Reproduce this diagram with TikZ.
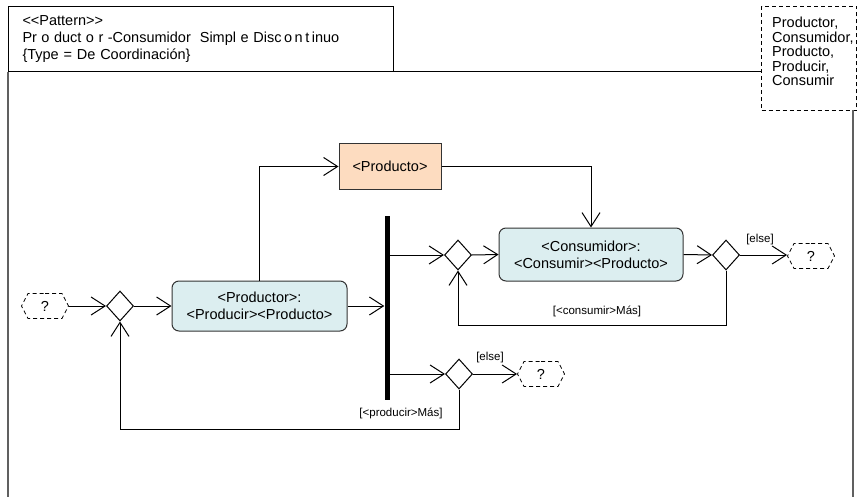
\documentclass[tikz,border=0pt]{standalone}
\usepackage{fontspec}
\setmainfont{Liberation Sans}
\usetikzlibrary{arrows.meta,shapes.geometric,shapes.symbols}
\definecolor{actfill}{HTML}{DCEEF0}
\definecolor{objfill}{HTML}{FDDCC0}
\definecolor{framegray}{HTML}{606060}
\newcommand{\gp}{\hspace{4.5pt}}
\newcommand{\gq}{\hspace{2.5pt}}
\begin{document}
\begin{tikzpicture}[x=1pt,y=-1pt,
  font=\fontsize{14.5}{17}\selectfont,
  flow/.style={line width=1pt,-{Straight Barb[length=14pt,width=18pt]}},
  link/.style={line width=1pt},
  act/.style={draw=black!80,line width=1pt,fill=actfill,rounded corners=7pt,
    align=center,inner sep=0pt},
  obj/.style={draw=black!80,line width=1pt,fill=objfill,inner sep=0pt},
  dec/.style={diamond,draw,line width=1pt,fill=white,minimum width=27pt,
    minimum height=30pt,inner sep=0pt},
  hex/.style={signal,signal to=east and west,signal pointer angle=125,draw,
    line width=0.8pt,dash pattern=on 4pt off 3pt,minimum width=47pt,
    minimum height=25pt,inner sep=0pt},
  lbl/.style={font=\fontsize{11.5}{13}\selectfont,inner sep=1pt},
  frameline/.style={draw=framegray,line width=1.5pt}]

\useasboundingbox (0,0) rectangle (858,497);

% frame: header, parameter box and side rails
\node[draw,line width=1pt,anchor=north west,minimum width=385pt,minimum height=65pt,
  text width=357pt,inner xsep=14pt,align=left] (hdr) at (8,6)
  {<{}<Pattern>{}>\\
   Pr\gp o\gp duct\gp o\gp r\gp -Consumidor\hspace{9pt}Simpl\gp e Disc\gq o\gq n\gq t\gq inuo\\
   \{Type = De Coordinación\}};
\node[draw,line width=1pt,dash pattern=on 4pt off 3pt,anchor=north west,
  minimum width=95pt,minimum height=104pt,inner sep=0pt] (par) at (761,6) {};
\node[anchor=north west,align=left,inner sep=0pt,
  font=\fontsize{14.5}{14.5}\selectfont] (partxt) at (772,17)
  {Productor,\\Consumidor,\\Producto,\\Producir,\\Consumir};
\draw[link] (hdr.south east) -- (hdr.south east -| par.west);
\draw[frameline] (hdr.south west) -- (8,497);
\draw[frameline] (853,110) -- (853,497);

% activities and objects
\node[act,minimum width=175pt,minimum height=50pt] (prod) at (259.5,306)
  {<Productor>:\\<Producir><Producto>};
\node[act,minimum width=184pt,minimum height=53pt] (cons) at (591,254.5)
  {<Consumidor>:\\<Consumir><Producto>};
\node[obj,minimum width=102pt,minimum height=45pt] (pto) at (390,166.5) {<Producto>};

% fork bar
\node[fill=black,minimum width=5pt,minimum height=184pt,inner sep=0pt] (bar) at (387,308) {};

% decisions
\node[dec] (d1) at (120,306) {};
\node[dec] (d2) at (458,255) {};
\node[dec] (d3) at (726,255) {};
\node[dec] (d4) at (459,374) {};

% open ends
\node[hex] (q1) at (45,306) {?};
\node[hex] (q2) at (811,256) {?};
\node[hex] (q3) at (541,374) {?};

% flows
\draw[flow] (q1.east) -- (d1.west);
\draw[flow] (d1.east) -- (prod.west);
\draw[flow] (prod.east) -- (prod.east -| bar.west);
\draw[flow] (prod.north) |- (pto.west);
\draw[flow] (pto.east) -| (cons.north);
\draw[flow] (bar.east |- d2.west) -- (d2.west);
\draw[flow] (d2.east) -- (cons.west);
\draw[flow] (cons.east) -- (d3.west);
\draw[flow] (d3.east) -- (d3.east -| q2.west);
\draw[flow] (d3.south) -- ++(0,55) -| (d2.south);
\draw[flow] (bar.east |- d4.west) -- (d4.west);
\draw[flow] (d4.east) -- (d4.east -| q3.west);
\draw[flow] (d4.south) -- ++(0,40) -| (d1.south);

% guards
\node[lbl] (g1) at (760,240) {[else]};
\node[lbl] (g2) at (490,358) {[else]};
\node[lbl] (g3) at (597,311) {[<consumir>Más]};
\node[lbl] (g4) at (401,413) {[<producir>Más]};
\end{tikzpicture}
\end{document}
